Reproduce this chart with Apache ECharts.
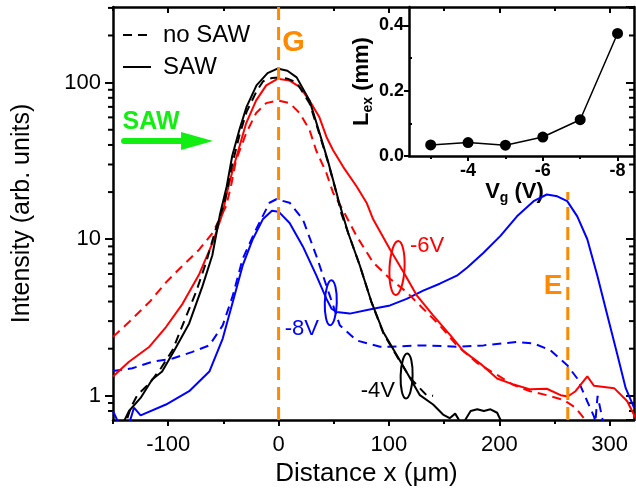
<!DOCTYPE html>
<html><head><meta charset="utf-8">
<script src="https://cdn.jsdelivr.net/npm/echarts@6/dist/echarts.min.js"></script>
<style>html,body{margin:0;padding:0;background:#fff}#c{width:636px;height:492px}</style>
</head><body><div id="c"></div>
<script>
const FONT = '"Liberation Sans", Arial, Helvetica, sans-serif';
const ORANGE = '#ff8a00', GREEN = '#12ee12', RED = '#ff0000', BLUE = '#0000ff';

// axis ranges / ticks
const X_MIN = -150, X_MAX = 322, Y_MIN = 0.7, Y_MAX = 304;
const xMajorTicks = [-100, 0, 100, 200, 300];
const xMinorTicks = [-150, -50, 50, 150, 250];
const yMinorTicks = [0.8, 0.9, 2, 3, 4, 5, 6, 7, 8, 9, 20, 30, 40, 50, 60, 70, 80, 90, 200, 300];

// Vg = -4 V, with SAW (black solid)
const sawM4 = [[-140,0.69],[-135.5,0.80],[-125,0.97],[-114.5,1.27],[-105.5,1.43],[-94.5,1.95],[-81,2.9],[-69,5.0],[-60,7.9],[-53,14.5],[-47,21.7],[-42,34],[-35.5,50],[-29,70],[-20,96],[-10,115],[-1,123],[8,119],[16.4,108],[28,77],[37,48],[44.5,32],[51,21.7],[55,17],[63,11],[73.6,6.8],[84,4.0],[94.8,2.56],[107,1.82],[117.5,1.36],[128,1.01],[140,0.88],[149,0.76],[155,0.72],[160,0.77],[163,0.71],[166,0.64],[170,0.72],[174,0.80],[180,0.82],[186,0.80],[192,0.82],[198,0.78],[202,0.68]];
// Vg = -4 V, no SAW (black dashed)
const noSawM4 = [[-137,0.72],[-134,0.84],[-128,1.01],[-117,1.20],[-106.6,1.50],[-96,1.96],[-87,2.82],[-74.8,4.6],[-65.7,7.1],[-56.6,11.8],[-49,17.1],[-42,30],[-35.5,46],[-29,65],[-20,88],[-14,102],[-6,107],[1,108],[8,106],[16.4,100],[28,74],[37,47],[44.5,31.5],[51,21.5],[57,14.5],[63,11],[73.6,6.8],[84,4.0],[95,2.5],[107,1.8],[117,1.38],[122,1.24],[134,1.01],[140,1.0]];
// Vg = -6 V, with SAW (red solid)
const sawM6 = [[-150,1.33],[-135.5,1.65],[-117,2.06],[-102,2.75],[-87,3.87],[-71.8,6.0],[-59.7,9.5],[-50.6,14.7],[-47.5,18.9],[-41.5,27.8],[-35.5,39],[-29.4,55],[-20.3,77],[-11.2,96],[-0.6,106],[10,103],[19,94],[28,77],[37,60],[43.4,45],[49.4,37],[58.5,29],[70.6,21.8],[79.7,17.1],[85.7,13.4],[101,8.6],[113,6.2],[125,4.4],[140,3.26],[155.5,2.44],[167.5,1.93],[183,1.6],[198,1.29],[213,1.18],[228,1.10],[243,1.11],[255.5,1.01],[262,0.99],[269,1.07],[279.7,1.33],[285.7,1.16],[304,1.12],[313,0.97],[316,0.92],[323.6,0.72]];
// Vg = -6 V, no SAW (red dashed)
const noSawM6 = [[-150,2.38],[-135.5,2.96],[-117,3.97],[-102,5.3],[-90,6.45],[-71.8,8.6],[-59.7,11.0],[-47.5,16.3],[-43,22],[-38.5,32],[-29.4,47.5],[-20.3,64],[-11.2,74],[-0.6,77],[10,74],[19,64],[28,50],[34,37],[43.4,26.4],[49.4,19.8],[58,15.5],[70.6,10.5],[85.7,7.1],[101,5.6],[116,4.6],[131,3.6],[146,2.82],[161.5,2.10],[180,1.62],[198,1.36],[213,1.17],[228,1.07],[243,1.01],[258.5,0.94],[269,0.84],[276.6,0.72],[280,0.65]];
// Vg = -8 V, with SAW (blue solid)
const sawM8 = [[-150,0.80],[-144.5,0.66],[-135.5,0.66],[-131,0.84],[-125,0.75],[-102,0.88],[-81,1.07],[-62.7,1.43],[-50.6,2.32],[-41.5,3.97],[-32.5,6.8],[-23.4,10],[-14.3,13.4],[-6,15.2],[0,15],[10,12.7],[22,9.0],[34.3,5.85],[43.4,4.16],[48,3.6],[52.5,3.43],[64.5,3.35],[85.7,3.6],[101,3.78],[116,4.16],[131,4.7],[146,5.2],[161.5,5.85],[171,6.6],[185.7,8.2],[201,10.5],[216,14.0],[231,17.5],[243,19.3],[252.5,18.8],[261.5,17.5],[270.6,14.0],[279.7,10],[288.8,5.85],[297.9,3.26],[307,1.82],[314.5,1.12],[322,0.84]];
// Vg = -8 V, no SAW (blue dashed)
const noSawM8 = [[-150,1.44],[-132.5,1.50],[-114.3,1.65],[-96,1.73],[-78,1.91],[-62.7,2.10],[-50.6,2.82],[-41.5,4.36],[-32.5,7.5],[-20.3,11.6],[-8.2,17.1],[-2,18],[10,17.1],[22,13.4],[34.3,7.8],[46.4,4.36],[55.5,2.82],[70.6,2.26],[92,2.06],[101,2.06],[131,2.10],[161.5,2.06],[185.7,2.10],[216,2.21],[231,2.16],[246,1.96],[261.5,1.57],[270.6,1.29],[279.7,0.92],[285.7,0.74],[287,0.68],[289,1.0],[294,0.68]];
// guide lines G and E
const lineG = [[0, Y_MIN], [0, Y_MAX]];
const lineE = [[262, Y_MIN], [262, 20]];

// inset: exciton transport length vs gate voltage
const insetVg = [-3, -4, -5, -6, -7, -8];
const insetLex = [0.034, 0.041, 0.033, 0.058, 0.111, 0.375];
const insetXLabels = [-4, -6, -8];
const insetXMinor = [-3, -5, -7];
const insetYLabels = [0, 0.2, 0.4];
const insetYMinor = [0.1, 0.3];

// annotations (data coordinates of the main plot)
const annoTexts = [
  {text: 'G', at: [13.6, 179], color: ORANGE, size: 29, weight: 'bold'},
  {text: 'E', at: [248.6, 5.04], color: ORANGE, size: 28, weight: 'bold'},
  {text: 'SAW', at: [-115.5, 56], color: GREEN, size: 25, weight: 'bold'},
  {text: '-6V', at: [134.5, 9.0], color: RED, size: 22, weight: 'normal'},
  {text: '-8V', at: [21, 2.69], color: BLUE, size: 22, weight: 'normal'},
  {text: '-4V', at: [90, 1.07], color: '#000', size: 22, weight: 'normal'}
];
const annoEllipses = [
  {at: [107.3, 6.55], rx: 7.5, ry: 27, color: RED, rot: -0.05},
  {at: [47.3, 3.93], rx: 6, ry: 22.5, color: BLUE, rot: -0.03},
  {at: [116, 1.34], rx: 6, ry: 22.5, color: '#000', rot: -0.03}
];
const arrowStart = [-141.8, 42.4];

const chart = echarts.init(document.getElementById('c'), null, {renderer: 'canvas'});

const axisLineStyle = {color: '#000', width: 2.5};
function curve(name, data, color, dashed) {
  return {type: 'line', name, data, xAxisIndex: 0, yAxisIndex: 0, symbol: 'none',
    lineStyle: {color, width: 2, type: dashed ? [9, 6] : 'solid'},
    itemStyle: {color}, z: 3, animation: false, clip: true};
}
function guide(data) {
  return {type: 'line', data, xAxisIndex: 0, yAxisIndex: 0, symbol: 'none',
    lineStyle: {color: ORANGE, width: 3, type: [13, 7]}, z: 6, animation: false, silent: true};
}
const richInset = {
  v: {fontSize: 22, fontWeight: 'bold', color: '#000', fontFamily: FONT},
  s: {fontSize: 14, fontWeight: 'bold', color: '#000', fontFamily: FONT, padding: [13, 0, 0, 0]}
};

const option = {
  animation: false,
  backgroundColor: '#fff',
  textStyle: {fontFamily: FONT},
  grid: [
    {left: 113, right: 2, top: 7, bottom: 70},
    {left: 409, right: 2, top: 7, bottom: 336}
  ],
  legend: {
    data: ['no SAW', 'SAW'], orient: 'vertical', left: 117, top: 18,
    itemWidth: 28, itemHeight: 14, itemGap: 8, selectedMode: false,
    itemStyle: {opacity: 0},
    textStyle: {fontSize: 24, fontFamily: FONT, color: '#000', lineHeight: 24, padding: [0, 0, 0, 7]}
  },
  xAxis: [
    {gridIndex: 0, type: 'value', position: 'bottom', min: X_MIN, max: X_MAX,
      axisLine: {onZero: false, lineStyle: axisLineStyle},
      axisTick: {customValues: xMajorTicks, length: 6, lineStyle: {width: 2, color: '#000'}},
      axisLabel: {customValues: xMajorTicks, fontSize: 22, color: '#000', fontFamily: FONT, margin: 14},
      splitLine: {show: false},
      name: 'Distance x (\u03bcm)', nameLocation: 'middle', nameGap: 40,
      nameTextStyle: {fontSize: 26, color: '#000', fontFamily: FONT, padding: [0, 14, 0, 0]}},
    {gridIndex: 0, type: 'value', position: 'bottom', min: X_MIN, max: X_MAX,
      axisLine: {show: false, onZero: false},
      axisTick: {customValues: xMinorTicks, length: 4, lineStyle: {width: 2, color: '#000'}},
      axisLabel: {show: false}, splitLine: {show: false}},
    {gridIndex: 0, type: 'value', position: 'top', min: X_MIN, max: X_MAX,
      axisLine: {onZero: false, lineStyle: axisLineStyle},
      axisTick: {inside: true, customValues: xMajorTicks, length: 6, lineStyle: {width: 2, color: '#000'}},
      axisLabel: {show: false}, splitLine: {show: false}},
    {gridIndex: 0, type: 'value', position: 'top', min: X_MIN, max: X_MAX,
      axisLine: {show: false, onZero: false},
      axisTick: {inside: true, customValues: xMinorTicks, length: 4, lineStyle: {width: 2, color: '#000'}},
      axisLabel: {show: false}, splitLine: {show: false}},
    {gridIndex: 1, type: 'value', position: 'bottom', inverse: true, min: -8.44, max: -2.42,
      axisLine: {onZero: false, lineStyle: axisLineStyle},
      axisTick: {customValues: insetXLabels, length: 5, lineStyle: {width: 2, color: '#000'}},
      axisLabel: {customValues: insetXLabels, fontSize: 18, fontWeight: 'bold', color: '#000', fontFamily: FONT, margin: 6},
      splitLine: {show: false},
      name: '{v|V}{s|g}{v| (V)}', nameLocation: 'middle', nameGap: 15,
      nameTextStyle: {padding: [0, 14, 0, 0], rich: richInset}},
    {gridIndex: 1, type: 'value', position: 'bottom', inverse: true, min: -8.44, max: -2.42,
      axisLine: {show: false, onZero: false},
      axisTick: {customValues: insetXMinor, length: 3, lineStyle: {width: 2, color: '#000'}},
      axisLabel: {show: false}, splitLine: {show: false}}
  ],
  yAxis: [
    {gridIndex: 0, type: 'log', position: 'left', min: Y_MIN, max: Y_MAX, logBase: 10,
      axisLine: {onZero: false, lineStyle: axisLineStyle},
      axisTick: {length: 8, lineStyle: {width: 2, color: '#000'}},
      axisLabel: {fontSize: 22, color: '#000', fontFamily: FONT, margin: 12, showMinLabel: false, showMaxLabel: false},
      splitLine: {show: false},
      name: 'Intensity (arb. units)', nameLocation: 'middle', nameGap: 78,
      nameTextStyle: {fontSize: 25, color: '#000', fontFamily: FONT}},
    {gridIndex: 0, type: 'log', position: 'right', min: Y_MIN, max: Y_MAX, logBase: 10,
      axisLine: {onZero: false, lineStyle: axisLineStyle},
      axisTick: {inside: true, length: 8, lineStyle: {width: 2, color: '#000'}},
      axisLabel: {show: false}, splitLine: {show: false}},
    {gridIndex: 1, type: 'value', position: 'left', min: 0, max: 0.456,
      axisLine: {onZero: false, lineStyle: axisLineStyle},
      axisTick: {customValues: insetYLabels, length: 5, lineStyle: {width: 2, color: '#000'}},
      axisLabel: {customValues: insetYLabels, formatter: v => Number(v).toFixed(1), fontSize: 18, fontWeight: 'bold', color: '#000', fontFamily: FONT, margin: 5},
      splitLine: {show: false},
      name: '{v|L}{s|ex}{v| (mm)}', nameLocation: 'middle', nameGap: 32,
      nameTextStyle: {padding: [0, 0, 0, 0], rich: richInset}},
    {gridIndex: 1, type: 'value', position: 'left', min: 0, max: 0.456,
      axisLine: {show: false, onZero: false},
      axisTick: {inside: true, customValues: insetYMinor, length: 3, lineStyle: {width: 2, color: '#000'}},
      axisLabel: {show: false}, splitLine: {show: false}}
  ],
  series: [
    {type: 'custom', xAxisIndex: 0, yAxisIndex: 0, silent: true, z: 1,
      data: yMinorTicks.map(v => [X_MIN, v]),
      renderItem: (params, api) => {
        const v = api.value(1);
        const l = api.coord([X_MIN, v]);
        const r = api.coord([X_MAX, v]);
        return {type: 'group', children: [
          {type: 'line', shape: {x1: l[0] - 5, y1: l[1], x2: l[0], y2: l[1]}, style: {stroke: '#000', lineWidth: 2}},
          {type: 'line', shape: {x1: r[0] - 5, y1: r[1], x2: r[0], y2: r[1]}, style: {stroke: '#000', lineWidth: 2}}
        ]};
      }},
    curve('no SAW -8V', noSawM8, BLUE, true),
    curve('SAW -8V', sawM8, BLUE, false),
    curve('no SAW -6V', noSawM6, RED, true),
    curve('SAW -6V', sawM6, RED, false),
    curve('no SAW', noSawM4, '#000', true),
    curve('SAW', sawM4, '#000', false),
    guide(lineG),
    guide(lineE),
    {type: 'line', xAxisIndex: 4, yAxisIndex: 2, data: insetVg.map((v, i) => [v, insetLex[i]]),
      symbol: 'circle', symbolSize: 11, lineStyle: {color: '#000', width: 1.5},
      itemStyle: {color: '#000'}, animation: false}
  ]
};
chart.setOption(option);

const px = p => chart.convertToPixel({xAxisIndex: 0, yAxisIndex: 0}, p);
const graphics = [];
annoTexts.forEach(a => {
  const p = px(a.at);
  graphics.push({type: 'text', x: p[0], y: p[1], z: 20, silent: true,
    style: {text: a.text, fill: a.color, fontSize: a.size, fontWeight: a.weight, fontFamily: FONT,
      align: 'center', verticalAlign: 'middle'}});
});
annoEllipses.forEach(e => {
  const p = px(e.at);
  graphics.push({type: 'ellipse', x: p[0], y: p[1], rotation: e.rot, z: 20, silent: true,
    shape: {cx: 0, cy: 0, rx: e.rx, ry: e.ry},
    style: {fill: 'none', stroke: e.color, lineWidth: 2}});
});
const a0 = px(arrowStart);
graphics.push({type: 'line', z: 20, silent: true,
  shape: {x1: a0[0] + 2, y1: a0[1], x2: a0[0] + 62, y2: a0[1]},
  style: {stroke: GREEN, lineWidth: 6, lineCap: 'round'}});
graphics.push({type: 'polygon', z: 20, silent: true,
  shape: {points: [[a0[0] + 59, a0[1] - 9], [a0[0] + 91, a0[1]], [a0[0] + 59, a0[1] + 9]]},
  style: {fill: GREEN}});
chart.setOption({graphic: graphics});
</script>
</body></html>
